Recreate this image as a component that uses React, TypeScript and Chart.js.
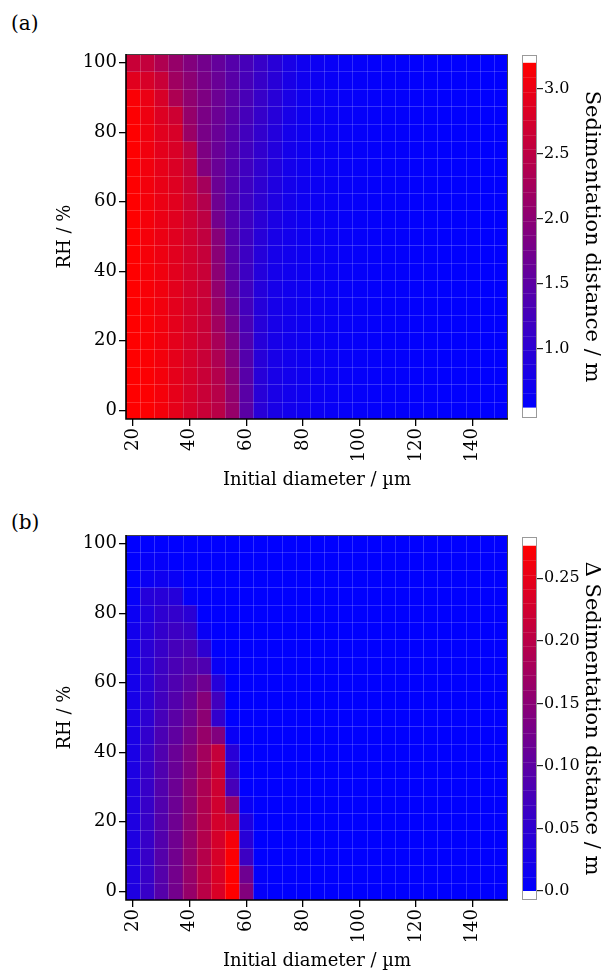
import React, { useEffect, useRef } from "react";
import { Chart, registerables } from "chart.js";
Chart.register(...registerables);

// ---------- data ----------
const diameters = [20, 25, 30, 35, 40, 45, 50, 55, 60, 65, 70, 75, 80, 85, 90, 95, 100, 105, 110, 115, 120, 125, 130, 135, 140, 145, 150];
const rhLevels = [0, 5, 10, 15, 20, 25, 30, 35, 40, 45, 50, 55, 60, 65, 70, 75, 80, 85, 90, 95, 100];
const xTicks = [20, 40, 60, 80, 100, 120, 140];
const yTicks = [0, 20, 40, 60, 80, 100];

const cbTicksA = [1.0, 1.5, 2.0, 2.5, 3.0];
const cbLabelsA = ["1.0", "1.5", "2.0", "2.5", "3.0"];
const cbTicksB = [0.0, 0.05, 0.1, 0.15, 0.2, 0.25];
const cbLabelsB = ["0.0", "0.05", "0.10", "0.15", "0.20", "0.25"];
const colorRangeA = [0.55, 3.2];
const colorRangeB = [0.0, 0.276];
const cbAxisA = [0.47, 3.26];
const cbAxisB = [-0.0072, 0.283];

// (a) sedimentation distance / m ; rows = RH 0..100, columns = diameters 20..150
const sedDistA: number[][] = [
  [3.20, 3.18, 3.10, 2.94, 2.78, 2.63, 2.47, 2.11, 1.49, 0.97, 0.81, 0.74, 0.70, 0.66, 0.63, 0.61, 0.60, 0.59, 0.58, 0.58, 0.57, 0.57, 0.56, 0.56, 0.56, 0.55, 0.55],
  [3.20, 3.18, 3.10, 2.94, 2.78, 2.63, 2.45, 2.06, 1.47, 0.97, 0.81, 0.74, 0.70, 0.66, 0.63, 0.61, 0.60, 0.59, 0.58, 0.58, 0.57, 0.57, 0.56, 0.56, 0.56, 0.55, 0.55],
  [3.20, 3.17, 3.09, 2.93, 2.78, 2.63, 2.42, 2.00, 1.45, 0.96, 0.80, 0.74, 0.70, 0.66, 0.63, 0.61, 0.60, 0.59, 0.58, 0.58, 0.57, 0.57, 0.56, 0.56, 0.56, 0.55, 0.55],
  [3.20, 3.16, 3.08, 2.93, 2.77, 2.63, 2.36, 1.92, 1.41, 0.96, 0.80, 0.73, 0.69, 0.66, 0.63, 0.61, 0.60, 0.59, 0.58, 0.58, 0.57, 0.57, 0.56, 0.56, 0.56, 0.55, 0.55],
  [3.20, 3.15, 3.07, 2.92, 2.77, 2.63, 2.30, 1.85, 1.38, 0.95, 0.79, 0.73, 0.69, 0.66, 0.63, 0.61, 0.60, 0.59, 0.58, 0.58, 0.57, 0.57, 0.56, 0.56, 0.56, 0.55, 0.55],
  [3.20, 3.15, 3.06, 2.92, 2.76, 2.63, 2.22, 1.75, 1.31, 0.94, 0.79, 0.73, 0.69, 0.66, 0.63, 0.61, 0.60, 0.59, 0.58, 0.58, 0.57, 0.57, 0.56, 0.56, 0.56, 0.55, 0.55],
  [3.20, 3.14, 3.05, 2.91, 2.76, 2.63, 2.15, 1.65, 1.25, 0.93, 0.78, 0.73, 0.69, 0.66, 0.63, 0.61, 0.60, 0.59, 0.58, 0.58, 0.57, 0.57, 0.56, 0.56, 0.56, 0.55, 0.55],
  [3.20, 3.13, 3.05, 2.91, 2.75, 2.63, 2.07, 1.56, 1.21, 0.92, 0.78, 0.72, 0.68, 0.66, 0.63, 0.61, 0.60, 0.59, 0.58, 0.58, 0.57, 0.57, 0.56, 0.56, 0.56, 0.55, 0.55],
  [3.20, 3.12, 3.04, 2.90, 2.75, 2.63, 2.00, 1.49, 1.17, 0.91, 0.77, 0.72, 0.68, 0.66, 0.63, 0.61, 0.60, 0.59, 0.58, 0.58, 0.57, 0.57, 0.56, 0.56, 0.56, 0.55, 0.55],
  [3.20, 3.11, 3.02, 2.89, 2.74, 2.60, 1.98, 1.45, 1.17, 0.93, 0.78, 0.73, 0.68, 0.66, 0.63, 0.61, 0.60, 0.59, 0.58, 0.58, 0.57, 0.57, 0.56, 0.56, 0.56, 0.55, 0.55],
  [3.20, 3.10, 3.00, 2.88, 2.72, 2.55, 1.95, 1.42, 1.17, 0.96, 0.80, 0.74, 0.68, 0.66, 0.63, 0.61, 0.60, 0.59, 0.58, 0.58, 0.57, 0.57, 0.56, 0.56, 0.56, 0.55, 0.55],
  [3.20, 3.10, 2.99, 2.88, 2.70, 2.50, 1.75, 1.40, 1.17, 0.99, 0.83, 0.75, 0.69, 0.66, 0.63, 0.61, 0.60, 0.59, 0.58, 0.58, 0.57, 0.57, 0.56, 0.56, 0.56, 0.55, 0.55],
  [3.20, 3.10, 2.99, 2.89, 2.68, 2.40, 1.69, 1.38, 1.17, 1.02, 0.86, 0.76, 0.69, 0.66, 0.63, 0.61, 0.60, 0.59, 0.58, 0.58, 0.57, 0.57, 0.56, 0.56, 0.56, 0.55, 0.55],
  [3.19, 3.08, 2.97, 2.86, 2.64, 2.25, 1.66, 1.39, 1.18, 1.03, 0.87, 0.76, 0.70, 0.66, 0.63, 0.61, 0.60, 0.59, 0.58, 0.58, 0.57, 0.57, 0.56, 0.56, 0.56, 0.55, 0.55],
  [3.18, 3.06, 2.95, 2.82, 2.60, 1.90, 1.64, 1.40, 1.20, 1.05, 0.89, 0.76, 0.70, 0.66, 0.63, 0.61, 0.60, 0.59, 0.58, 0.58, 0.57, 0.57, 0.56, 0.56, 0.56, 0.55, 0.55],
  [3.19, 3.05, 2.92, 2.80, 2.50, 1.85, 1.64, 1.42, 1.22, 1.06, 0.90, 0.76, 0.70, 0.66, 0.63, 0.61, 0.60, 0.59, 0.58, 0.58, 0.57, 0.57, 0.56, 0.56, 0.56, 0.55, 0.55],
  [3.20, 3.04, 2.89, 2.78, 2.15, 1.80, 1.64, 1.43, 1.23, 1.07, 0.91, 0.76, 0.70, 0.66, 0.63, 0.61, 0.60, 0.59, 0.58, 0.58, 0.57, 0.57, 0.56, 0.56, 0.56, 0.55, 0.55],
  [3.18, 3.02, 2.85, 2.68, 2.10, 1.82, 1.66, 1.46, 1.27, 1.10, 0.94, 0.79, 0.70, 0.66, 0.63, 0.61, 0.60, 0.59, 0.58, 0.58, 0.57, 0.57, 0.56, 0.56, 0.56, 0.55, 0.55],
  [3.15, 2.99, 2.78, 2.35, 2.05, 1.85, 1.67, 1.49, 1.30, 1.12, 0.97, 0.81, 0.71, 0.67, 0.63, 0.61, 0.60, 0.59, 0.58, 0.58, 0.57, 0.57, 0.56, 0.56, 0.56, 0.55, 0.55],
  [2.89, 2.78, 2.63, 2.20, 2.00, 1.80, 1.64, 1.46, 1.28, 1.12, 0.97, 0.81, 0.71, 0.67, 0.63, 0.61, 0.60, 0.59, 0.58, 0.58, 0.57, 0.57, 0.56, 0.56, 0.56, 0.55, 0.55],
  [2.63, 2.58, 2.37, 2.11, 1.90, 1.74, 1.59, 1.43, 1.28, 1.12, 0.97, 0.81, 0.71, 0.67, 0.63, 0.61, 0.60, 0.59, 0.58, 0.58, 0.57, 0.57, 0.56, 0.56, 0.56, 0.55, 0.55],
];

// (b) Δ sedimentation distance / m ; rows = RH 0..100, columns = diameters 20..150
const deltaDistB: number[][] = [
  [0.032, 0.060, 0.092, 0.124, 0.162, 0.200, 0.235, 0.276, 0.141, 0.005, 0, 0, 0, 0, 0, 0, 0, 0, 0, 0, 0, 0, 0, 0, 0, 0, 0],
  [0.032, 0.060, 0.092, 0.124, 0.162, 0.200, 0.235, 0.276, 0.119, 0.003, 0, 0, 0, 0, 0, 0, 0, 0, 0, 0, 0, 0, 0, 0, 0, 0, 0],
  [0.032, 0.060, 0.092, 0.122, 0.160, 0.196, 0.232, 0.272, 0.065, 0, 0, 0, 0, 0, 0, 0, 0, 0, 0, 0, 0, 0, 0, 0, 0, 0, 0],
  [0.032, 0.060, 0.090, 0.120, 0.157, 0.194, 0.230, 0.265, 0.043, 0, 0, 0, 0, 0, 0, 0, 0, 0, 0, 0, 0, 0, 0, 0, 0, 0, 0],
  [0.032, 0.060, 0.090, 0.119, 0.155, 0.192, 0.228, 0.216, 0.032, 0, 0, 0, 0, 0, 0, 0, 0, 0, 0, 0, 0, 0, 0, 0, 0, 0, 0],
  [0.032, 0.060, 0.089, 0.117, 0.152, 0.190, 0.225, 0.162, 0.010, 0, 0, 0, 0, 0, 0, 0, 0, 0, 0, 0, 0, 0, 0, 0, 0, 0, 0],
  [0.032, 0.060, 0.089, 0.117, 0.150, 0.186, 0.222, 0.076, 0, 0, 0, 0, 0, 0, 0, 0, 0, 0, 0, 0, 0, 0, 0, 0, 0, 0, 0],
  [0.030, 0.060, 0.087, 0.114, 0.141, 0.179, 0.218, 0.054, 0, 0, 0, 0, 0, 0, 0, 0, 0, 0, 0, 0, 0, 0, 0, 0, 0, 0, 0],
  [0.027, 0.060, 0.087, 0.114, 0.141, 0.176, 0.212, 0.043, 0, 0, 0, 0, 0, 0, 0, 0, 0, 0, 0, 0, 0, 0, 0, 0, 0, 0, 0],
  [0.027, 0.054, 0.081, 0.103, 0.130, 0.162, 0.140, 0.010, 0, 0, 0, 0, 0, 0, 0, 0, 0, 0, 0, 0, 0, 0, 0, 0, 0, 0, 0],
  [0.027, 0.049, 0.076, 0.097, 0.119, 0.152, 0.054, 0, 0, 0, 0, 0, 0, 0, 0, 0, 0, 0, 0, 0, 0, 0, 0, 0, 0, 0, 0],
  [0.025, 0.048, 0.070, 0.090, 0.110, 0.145, 0.070, 0, 0, 0, 0, 0, 0, 0, 0, 0, 0, 0, 0, 0, 0, 0, 0, 0, 0, 0, 0],
  [0.022, 0.045, 0.068, 0.085, 0.100, 0.120, 0.040, 0, 0, 0, 0, 0, 0, 0, 0, 0, 0, 0, 0, 0, 0, 0, 0, 0, 0, 0, 0],
  [0.022, 0.045, 0.065, 0.080, 0.090, 0.085, 0.010, 0, 0, 0, 0, 0, 0, 0, 0, 0, 0, 0, 0, 0, 0, 0, 0, 0, 0, 0, 0],
  [0.020, 0.045, 0.060, 0.075, 0.080, 0.050, 0, 0, 0, 0, 0, 0, 0, 0, 0, 0, 0, 0, 0, 0, 0, 0, 0, 0, 0, 0, 0],
  [0.020, 0.040, 0.055, 0.065, 0.060, 0.010, 0, 0, 0, 0, 0, 0, 0, 0, 0, 0, 0, 0, 0, 0, 0, 0, 0, 0, 0, 0, 0],
  [0.012, 0.035, 0.050, 0.055, 0.045, 0, 0, 0, 0, 0, 0, 0, 0, 0, 0, 0, 0, 0, 0, 0, 0, 0, 0, 0, 0, 0, 0],
  [0.005, 0.040, 0.042, 0.040, 0.005, 0, 0, 0, 0, 0, 0, 0, 0, 0, 0, 0, 0, 0, 0, 0, 0, 0, 0, 0, 0, 0, 0],
  [0, 0.012, 0.016, 0.010, 0, 0, 0, 0, 0, 0, 0, 0, 0, 0, 0, 0, 0, 0, 0, 0, 0, 0, 0, 0, 0, 0, 0],
  [0, 0.005, 0.005, 0, 0, 0, 0, 0, 0, 0, 0, 0, 0, 0, 0, 0, 0, 0, 0, 0, 0, 0, 0, 0, 0, 0, 0],
  [0, 0, 0, 0, 0, 0, 0, 0, 0, 0, 0, 0, 0, 0, 0, 0, 0, 0, 0, 0, 0, 0, 0, 0, 0, 0, 0],
];

// ---------- helpers ----------
const FONT = "'DejaVu Serif', serif";

function cmap(v: number, lo: number, hi: number) {
  const t = Math.max(0, Math.min(1, (v - lo) / (hi - lo)));
  return `rgb(${Math.round(255 * t)},0,${Math.round(255 * (1 - t))})`;
}

const heatPlugin = {
  id: "heat",
  beforeDatasetsDraw(chart: any, _args: any, opts: any) {
    const { ctx, chartArea, scales } = chart;
    const xs = scales.x;
    const ys = scales.y;
    const hw = (diameters[1] - diameters[0]) / 2;
    const hh = (rhLevels[1] - rhLevels[0]) / 2;
    ctx.save();
    ctx.beginPath();
    ctx.rect(chartArea.left, chartArea.top, chartArea.right - chartArea.left, chartArea.bottom - chartArea.top);
    ctx.clip();
    for (const p of chart.data.datasets[0].data) {
      const x0 = xs.getPixelForValue(p.x - hw);
      const x1 = xs.getPixelForValue(p.x + hw);
      const y0 = ys.getPixelForValue(p.y - hh);
      const y1 = ys.getPixelForValue(p.y + hh);
      ctx.fillStyle = cmap(p.v, opts.lo, opts.hi);
      ctx.fillRect(x0, y1, x1 - x0 + 0.6, y0 - y1 + 0.6);
    }
    ctx.strokeStyle = "rgba(255,255,255,0.17)";
    ctx.lineWidth = 1;
    ctx.beginPath();
    for (const d of diameters) {
      const x = Math.round(xs.getPixelForValue(d + hw)) + 0.5;
      ctx.moveTo(x, chartArea.top);
      ctx.lineTo(x, chartArea.bottom);
    }
    for (const r of rhLevels) {
      const y = Math.round(ys.getPixelForValue(r + hh)) + 0.5;
      ctx.moveTo(chartArea.left, y);
      ctx.lineTo(chartArea.right, y);
    }
    ctx.stroke();
    ctx.restore();
  },
  afterDraw(chart: any) {
    const { ctx, chartArea } = chart;
    const { left, right, top, bottom } = chartArea;
    ctx.save();
    ctx.strokeStyle = "#444";
    ctx.lineWidth = 1;
    ctx.beginPath();
    ctx.moveTo(left, top + 0.5);
    ctx.lineTo(right - 0.5, top + 0.5);
    ctx.lineTo(right - 0.5, bottom);
    ctx.stroke();
    ctx.strokeStyle = "#000";
    ctx.lineWidth = 1.6;
    ctx.beginPath();
    ctx.moveTo(left, top);
    ctx.lineTo(left, bottom);
    ctx.lineTo(right, bottom);
    ctx.stroke();
    ctx.restore();
  },
};

const colorbarPlugin = {
  id: "cbar",
  beforeDatasetsDraw(chart: any, _args: any, opts: any) {
    const { ctx, chartArea, scales } = chart;
    const { left, right, top, bottom } = chartArea;
    const ys = scales.y;
    ctx.save();
    ctx.fillStyle = "#fff";
    ctx.fillRect(left, top, right - left, bottom - top);
    const yHi = ys.getPixelForValue(opts.hi);
    const yLo = ys.getPixelForValue(opts.lo);
    const g = ctx.createLinearGradient(0, yLo, 0, yHi);
    g.addColorStop(0, "rgb(0,0,255)");
    g.addColorStop(1, "rgb(255,0,0)");
    ctx.fillStyle = g;
    ctx.fillRect(left, yHi, right - left, yLo - yHi);
    ctx.strokeStyle = "rgba(255,255,255,0.12)";
    ctx.lineWidth = 1;
    ctx.beginPath();
    const n = 24;
    for (let i = 1; i < n; i++) {
      const y = Math.round(yHi + ((yLo - yHi) * i) / n) + 0.5;
      ctx.moveTo(left, y);
      ctx.lineTo(right, y);
    }
    ctx.stroke();
    ctx.strokeStyle = "#9a9a9a";
    ctx.lineWidth = 1;
    ctx.strokeRect(left + 0.5, top + 0.5, right - left - 1, bottom - top - 1);
    ctx.restore();
  },
};

function heatConfig(matrix: number[][], range: number[]): any {
  const pts: any[] = [];
  rhLevels.forEach((r, j) => {
    diameters.forEach((d, i) => {
      pts.push({ x: d, y: r, v: matrix[j][i] });
    });
  });
  const hw = (diameters[1] - diameters[0]) / 2;
  const hh = (rhLevels[1] - rhLevels[0]) / 2;
  return {
    type: "scatter",
    data: { datasets: [{ data: pts, pointRadius: 0, pointHoverRadius: 0, showLine: false }] },
    plugins: [heatPlugin],
    options: {
      responsive: false,
      animation: false,
      events: [],
      layout: { padding: { top: 14, right: 2, left: 0, bottom: 0 } },
      plugins: {
        legend: { display: false },
        tooltip: { enabled: false },
        heat: { lo: range[0], hi: range[1] },
      },
      scales: {
        x: {
          type: "linear",
          min: diameters[0] - hw,
          max: diameters[diameters.length - 1] + hw,
          afterBuildTicks: (s: any) => {
            s.ticks = xTicks.map((v) => ({ value: v }));
          },
          afterFit: (s: any) => {
            s.height = 76;
          },
          ticks: {
            autoSkip: false,
            minRotation: 90,
            maxRotation: 90,
            padding: 2,
            color: "#000",
            font: { family: FONT, size: 18 },
            callback: (v: any) => String(v),
          },
          grid: { drawOnChartArea: false, drawTicks: true, tickLength: 7, color: "#000", lineWidth: 1.3 },
          border: { display: false },
          title: {
            display: true,
            text: "Initial diameter / µm",
            color: "#000",
            font: { family: FONT, size: 18 },
            padding: { top: 0, bottom: 4 },
          },
        },
        y: {
          type: "linear",
          min: rhLevels[0] - hh,
          max: rhLevels[rhLevels.length - 1] + hh,
          afterBuildTicks: (s: any) => {
            s.ticks = yTicks.map((v) => ({ value: v }));
          },
          afterFit: (s: any) => {
            s.width = 71;
          },
          ticks: {
            padding: 2,
            color: "#000",
            font: { family: FONT, size: 18 },
            callback: (v: any) => String(v),
          },
          grid: { drawOnChartArea: false, drawTicks: true, tickLength: 7, color: "#000", lineWidth: 1.3 },
          border: { display: false },
          title: {
            display: true,
            text: "RH / %",
            color: "#000",
            font: { family: FONT, size: 18 },
            padding: { top: 0, bottom: 0 },
          },
        },
      },
    },
  };
}

function cbConfig(ticks: number[], labels: string[], axis: number[], range: number[], title: string, pad: any): any {
  return {
    type: "scatter",
    data: { datasets: [{ data: [], pointRadius: 0 }] },
    plugins: [colorbarPlugin],
    options: {
      responsive: false,
      animation: false,
      events: [],
      layout: { padding: pad },
      plugins: {
        legend: { display: false },
        tooltip: { enabled: false },
        cbar: { lo: range[0], hi: range[1] },
      },
      scales: {
        x: { display: false, min: 0, max: 1 },
        y: {
          type: "linear",
          position: "right",
          min: axis[0],
          max: axis[1],
          afterBuildTicks: (s: any) => {
            s.ticks = ticks.map((v) => ({ value: v }));
          },
          afterFit: (s: any) => {
            s.width = 73;
          },
          ticks: {
            padding: 1,
            color: "#000",
            font: { family: FONT, size: 16 },
            callback: (_v: any, i: number) => labels[i],
          },
          grid: { drawOnChartArea: false, drawTicks: true, tickLength: 6, color: "#222", lineWidth: 1.2 },
          border: { display: false },
          title: {
            display: true,
            text: title,
            color: "#000",
            font: { family: FONT, size: 21 },
            padding: { top: 6, bottom: 0 },
          },
        },
      },
    },
  };
}

export default function App() {
  const refA = useRef<HTMLCanvasElement>(null);
  const refCbA = useRef<HTMLCanvasElement>(null);
  const refB = useRef<HTMLCanvasElement>(null);
  const refCbB = useRef<HTMLCanvasElement>(null);

  useEffect(() => {
    const charts = [
      new Chart(refA.current as HTMLCanvasElement, heatConfig(sedDistA, colorRangeA)),
      new Chart(
        refCbA.current as HTMLCanvasElement,
        cbConfig(cbTicksA, cbLabelsA, cbAxisA, colorRangeA, "Sedimentation distance / m", { left: 7, top: 15, bottom: 77, right: 0 })
      ),
      new Chart(refB.current as HTMLCanvasElement, heatConfig(deltaDistB, colorRangeB)),
      new Chart(
        refCbB.current as HTMLCanvasElement,
        cbConfig(cbTicksB, cbLabelsB, cbAxisB, colorRangeB, "Δ Sedimentation distance / m", { left: 7, top: 16, bottom: 76, right: 0 })
      ),
    ];
    return () => charts.forEach((c) => c.destroy());
  }, []);

  const abs = (l: number, t: number, w: number, h: number): React.CSSProperties => ({
    position: "absolute",
    left: l,
    top: t,
    width: w,
    height: h,
  });

  return (
    <div style={{ position: "absolute", left: 0, top: 0, width: 610, height: 979, background: "#fff", fontFamily: FONT }}>
      <div style={{ position: "absolute", left: 11, top: 10, fontSize: 20, lineHeight: "26px", color: "#000" }}>(a)</div>
      <canvas ref={refA} width={455} height={455} style={abs(55, 40, 455, 455)} />
      <canvas ref={refCbA} width={95} height={455} style={abs(515, 40, 95, 455)} />
      <div style={{ position: "absolute", left: 11, top: 509, fontSize: 20, lineHeight: "26px", color: "#000" }}>(b)</div>
      <canvas ref={refB} width={455} height={455} style={abs(55, 521, 455, 455)} />
      <canvas ref={refCbB} width={95} height={455} style={abs(515, 521, 95, 455)} />
    </div>
  );
}
